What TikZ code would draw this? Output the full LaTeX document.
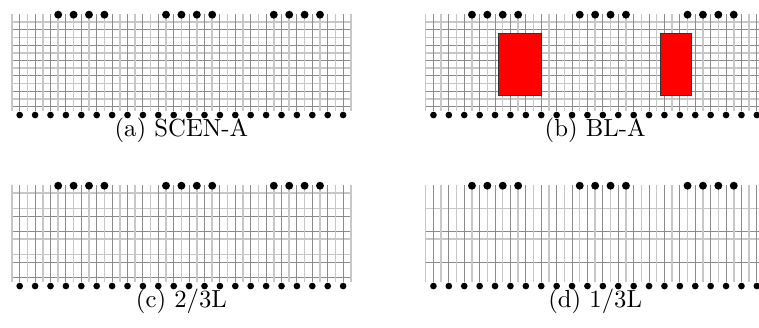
\documentclass[tikz,border=0pt]{standalone}
\usepackage{tikz}
\usetikzlibrary{positioning}

\tikzset{
  lightline/.style={black!22,line width=0.6pt},
  darkline/.style={black!45,line width=0.4pt},
  block/.style={draw=black!80,fill=red,line width=0.4pt},
  subcap/.style={inner sep=1pt}
}

% one panel: lane lines in #1
\newcommand{\lanegrid}[1]{%
  \foreach \k in {#1}{%
    \ifodd\k\relax
      \draw[darkline](0,\k)--(44,\k);
    \else
      \draw[lightline](0,\k)--(44,\k);
    \fi}
  \foreach \i in {0,2,...,44} \draw[lightline](\i,-1.04)--(\i,11.6);
  \foreach \i in {1,3,...,43} \draw[darkline](\i,-1.04)--(\i,11.6);
  \foreach \i in {1,3,...,43} \fill(\i,12.08)circle(1.35pt);
  \foreach \i in {6,8,10,12,20,22,24,26,34,36,38,40} \fill(\i,-0.95)circle(1.6pt);
}

\begin{document}
\begin{tikzpicture}[x=3.115pt,y=-3.115pt]
\useasboundingbox(-1.558,-2.857)rectangle(97.01,39.61);
\clip(-1.558,-2.857)rectangle(97.01,39.61);
% (a)
\begin{scope}
\lanegrid{0,...,11}
\node[subcap](capa)at(22,14.03){(a) SCEN-A};
\end{scope}
% (b)
\begin{scope}[shift={(53.73,0)}]
\lanegrid{0,...,11}
\draw[block](9.5,1.5)rectangle(15,9.5);
\draw[block](30.5,1.5)rectangle(34.5,9.5);
\node[subcap](capb)at(22,14.03){(b) BL-A};
\end{scope}
% (c)
\begin{scope}[shift={(0,22.21)}]
\lanegrid{0,2,3,5,6,8,9,11}
\node[subcap](capc)at(22,14.03){(c) 2/3L};
\end{scope}
% (d)
\begin{scope}[shift={(53.73,22.21)}]
\lanegrid{2,5,6,9}
\node[subcap](capd)at(22,14.03){(d) 1/3L};
\end{scope}
\end{tikzpicture}
\end{document}
